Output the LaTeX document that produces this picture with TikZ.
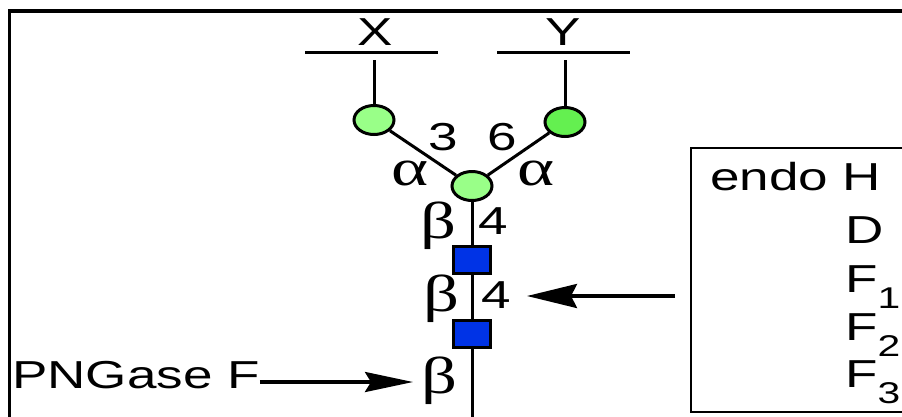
\documentclass[tikz,border=0pt]{standalone}
\usepackage{fontspec}
\setmainfont{Liberation Sans}[FakeStretch=1.36]
\newfontfamily\grk{Liberation Serif}[FakeStretch=1.36]
\usetikzlibrary{shapes.geometric,arrows.meta}
\definecolor{lgreen}{RGB}{153,255,136}
\definecolor{dgreen}{RGB}{100,240,80}
\definecolor{gblue}{RGB}{0,51,230}
\newcommand{\subidx}[1]{\raisebox{-16pt}{\fontsize{30}{30}\selectfont #1}}
\begin{document}
\begin{tikzpicture}[x=1pt,y=-1pt,
  lbl/.style={font=\fontsize{39}{39}\selectfont, inner sep=0},
  grklbl/.style={font=\fontsize{52}{52}\selectfont\grk, inner sep=0},
  sugar/.style={ellipse, draw, line width=3pt, minimum width=40pt, minimum height=29pt, inner sep=0},
  glc/.style={rectangle, draw, line width=3pt, fill=gblue, minimum width=37pt, minimum height=27pt, inner sep=0},
  bond/.style={line width=3pt},
  cutarrow/.style={line width=3.5pt, -{Stealth[length=50pt,width=24pt,inset=6pt]}}
]
\useasboundingbox (0,0) rectangle (902,416);
% frame
\draw[line width=3.5pt] (9.5,425) -- (9.5,11) -- (910,11);
% X and Y
\node[lbl] (X) at (375,32) {X};
\node[lbl] (Y) at (563,32) {Y};
\coordinate (xl1) at (305,52); \coordinate (xl2) at (438,52);
\coordinate (yl1) at (497,52); \coordinate (yl2) at (630,52);
\draw[bond] (xl1) -- (xl2);
\draw[bond] (yl1) -- (yl2);
\coordinate (xs) at (374,60);
\coordinate (ys) at (565,60);
% residues
\node[sugar, fill=lgreen] (L) at (374,120) {};
\node[sugar, fill=dgreen] (R) at (565,122) {};
\node[sugar, fill=lgreen] (C) at (472,186) {};
\node[glc] (S1) at (472,259.5) {};
\node[glc] (S2) at (472,334) {};
\coordinate (bot) at (472,425);
% bonds
\draw[bond] (xs) -- (L);
\draw[bond] (ys) -- (R);
\draw[bond] (L) -- (C);
\draw[bond] (R) -- (C);
\draw[bond] (C) -- (S1);
\draw[bond] (S1) -- (S2);
\draw[bond] (S2) -- (bot);
% linkage labels
\node[lbl] (n3) at (443,137) {3};
\node[lbl] (n6) at (502,137) {6};
\node[grklbl] (a1) at (410,173) {α};
\node[grklbl] (a2) at (536,173) {α};
\node[grklbl] (b1) at (438,226) {β};
\node[lbl] (n4a) at (493,221) {4};
\node[grklbl] (b2) at (441,299) {β};
\node[lbl] (n4b) at (496,295) {4};
\node[grklbl] (b3) at (439,381) {β};
% PNGase F
\node[lbl, anchor=base west] (png) at (12,388) {PNGase F};
\coordinate (pt) at (413,382);
\draw[cutarrow, -{Stealth[length=48pt,width=20pt,inset=6pt]}] (png.east |- pt) -- (pt);
% endo box
\draw[line width=2.5pt] (691,148) rectangle (910,412);
\node[lbl, anchor=base west] (endoH) at (710,190) {endo H};
\node[lbl, anchor=base west] (D) at (845,243) {D};
\node[lbl, anchor=base west] (F1) at (845,292) {F\subidx{1}};
\node[lbl, anchor=base west] (F2) at (845,340) {F\subidx{2}};
\node[lbl, anchor=base west] (F3) at (845,387) {F\subidx{3}};
\coordinate (es) at (675,296);
\coordinate (et) at (527,296);
\draw[cutarrow] (es) -- (et);
\end{tikzpicture}
\end{document}
